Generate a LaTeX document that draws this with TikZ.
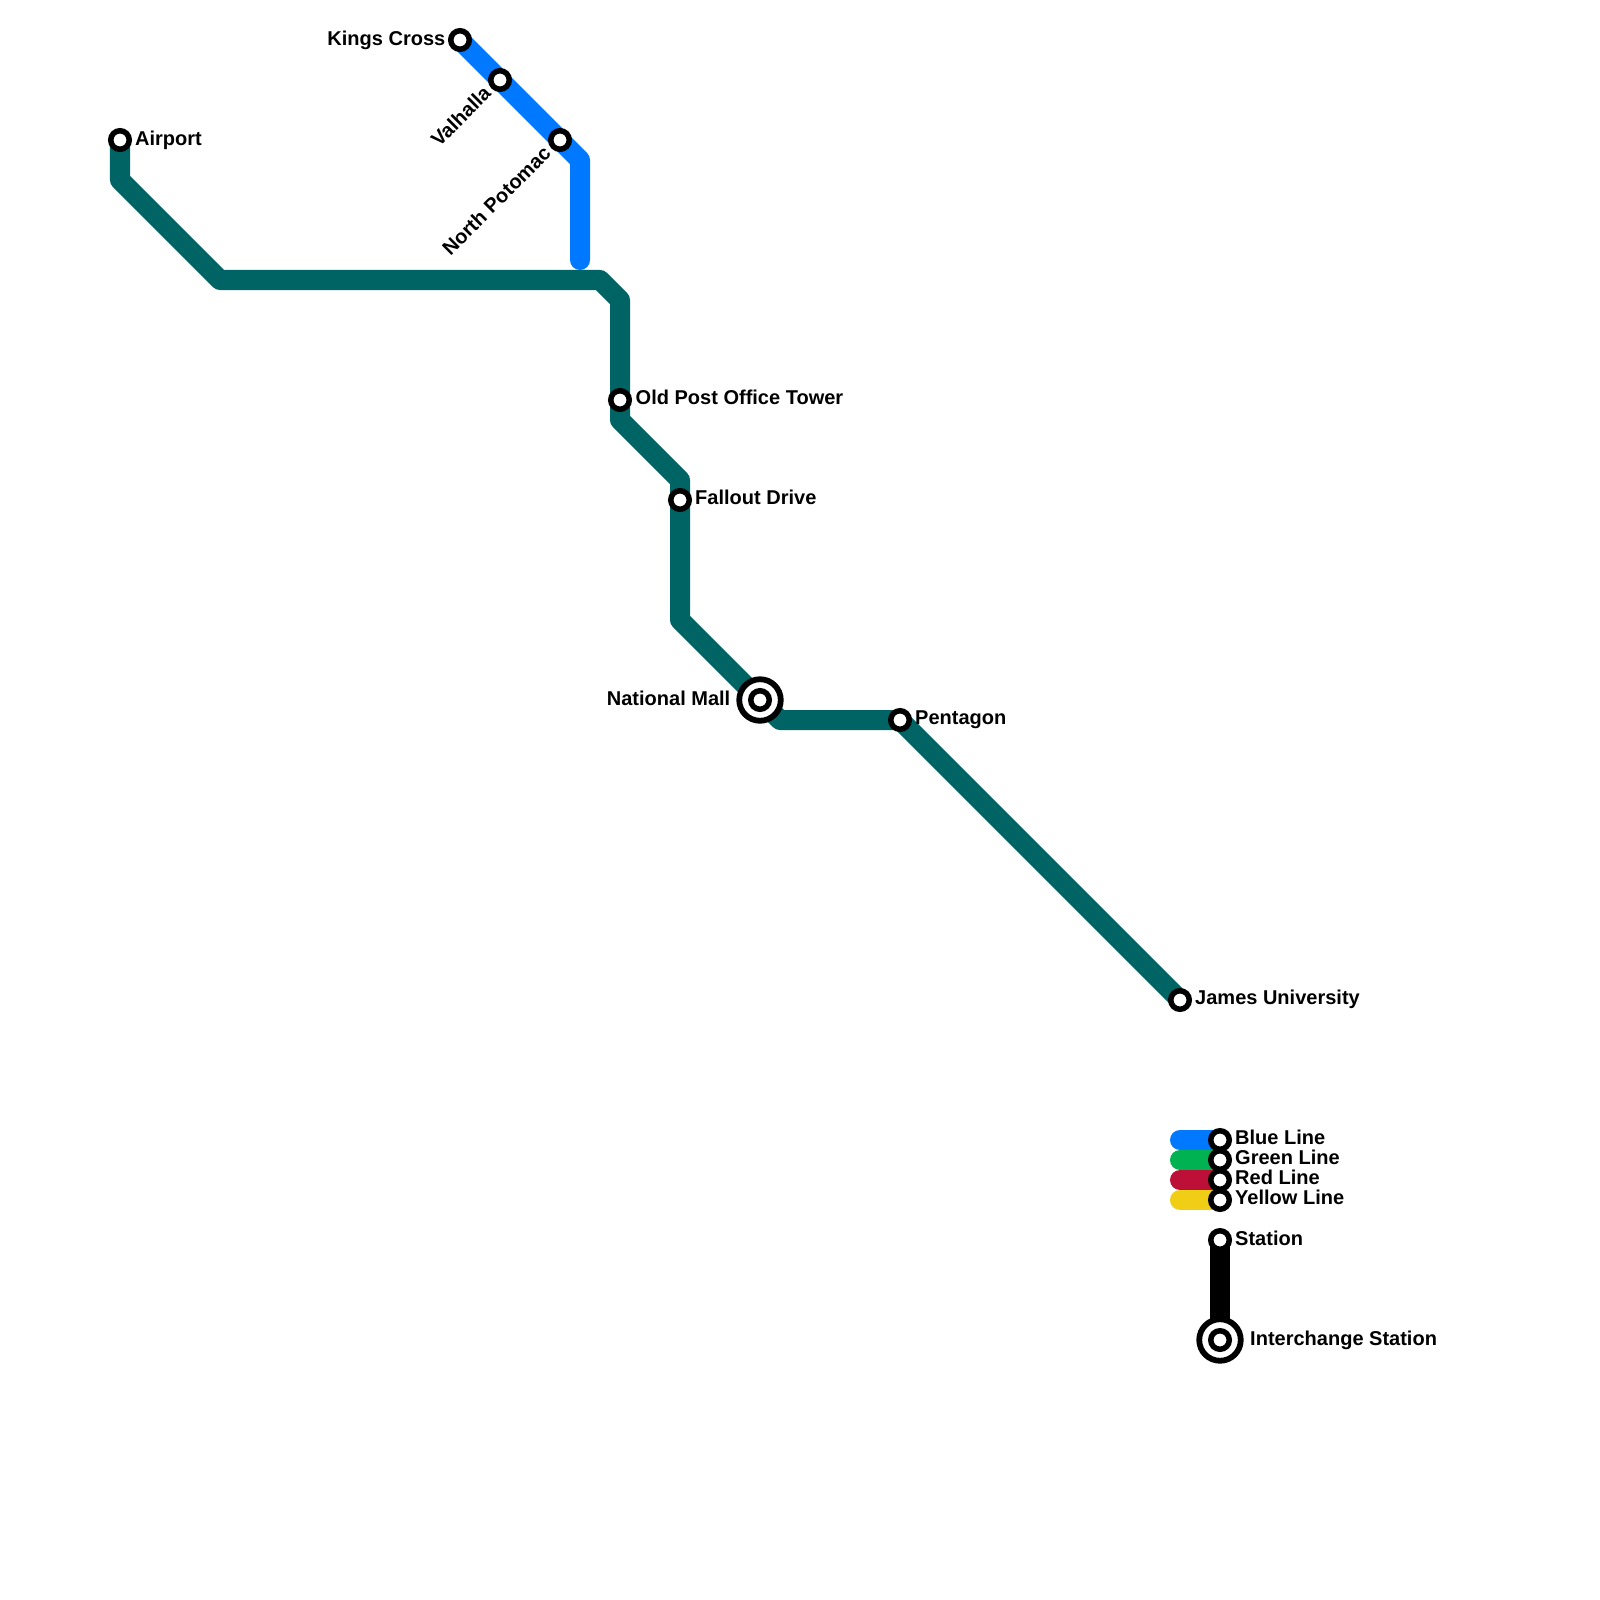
\documentclass[tikz,border=0pt]{standalone}
\usepackage{fontspec}
\setmainfont{Liberation Sans}
\usetikzlibrary{backgrounds}
\definecolor{metroblue}{RGB}{0,120,255}
\definecolor{metroteal}{RGB}{0,100,100}
\definecolor{metrogreen}{RGB}{0,178,81}
\definecolor{metrored}{RGB}{189,16,56}
\definecolor{metroyellow}{RGB}{240,206,21}
\tikzset{
    metro line/.style={
        line width=0.2cm,
        line cap=round,
        line join=round
    },
    station/.style={
        circle,
        draw=black,
        fill=white,
        line width=0.055cm,
        minimum size=0.185cm,
        inner sep=0pt
    },
    interchange/.style={
        station,
        line width=0.058cm,
        minimum size=0.415cm
    },
    station label/.style={
        font=\bfseries\fontsize{5.69pt}{7pt}\selectfont,
        inner sep=0pt
    }
}
\begin{document}
\begin{tikzpicture}[x=0.01cm,y=-0.01cm]
                \useasboundingbox (0,0) rectangle (1600,1600);
                % stations
                \node[station] (Airport) at (120,140) {};
                \node[station] (KingsCross) at (460,40) {};
                \node[station] (Valhalla) at (500,80) {};
                \node[station] (NorthPotomac) at (560,140) {};
                \node[station] (OldPost) at (620,400) {};
                \node[station] (Fallout) at (680,500) {};
                \node[interchange] (MallRing) at (760,700) {};
                \node[station] (NationalMall) at (760,700) {};
                \node[station] (Pentagon) at (900,720) {};
                \node[station] (James) at (1180,1000) {};
                % key
                \node[station] (KeyBlue) at (1220,1140) {};
                \node[station] (KeyGreen) at (1220,1160) {};
                \node[station] (KeyRed) at (1220,1180) {};
                \node[station] (KeyYellow) at (1220,1200) {};
                \node[station] (KeyStation) at (1220,1240) {};
                \node[interchange] (KeyRing) at (1220,1340) {};
                \node[station] (KeyInterchange) at (1220,1340) {};
                % bends
                \coordinate (T1) at (120,180);
                \coordinate (T2) at (220,280);
                \coordinate (T3) at (600,280);
                \coordinate (T4) at (620,300);
                \coordinate (T5) at (620,420);
                \coordinate (T6) at (680,480);
                \coordinate (T7) at (680,620);
                \coordinate (T8) at (780,720);
                \coordinate (B1) at (580,160);
                \coordinate (B2) at (580,260);
                \coordinate (E1) at (1180,1140);
                \coordinate (E2) at (1180,1160);
                \coordinate (E3) at (1180,1180);
                \coordinate (E4) at (1180,1200);
                % lines
                \begin{pgfonlayer}{background}
                    \draw[metro line, metroteal]
                        (Airport.center) -- (T1) -- (T2) -- (T3) -- (T4) -- (T5) -- (T6) -- (T7) -- (T8) -- (Pentagon.center) -- (James.center);
                    \draw[metro line, metroblue]
                        (KingsCross.center) -- (Valhalla.center) -- (NorthPotomac.center) -- (B1) -- (B2);
                    \draw[metro line, metroblue] (E1) -- (KeyBlue.center);
                    \draw[metro line, metrogreen] (E2) -- (KeyGreen.center);
                    \draw[metro line, metrored] (E3) -- (KeyRed.center);
                    \draw[metro line, metroyellow] (E4) -- (KeyYellow.center);
                    \draw[metro line, black] (KeyStation.center) -- (KeyInterchange.center);
                \end{pgfonlayer}
                % labels
                \node[station label, anchor=base west] (LAirport) at ([shift={(14.5,5.5)}]Airport.center) {Airport};
                \node[station label, anchor=base east] (LKings) at ([shift={(-14,6)}]KingsCross.center) {Kings Cross};
                \node[station label, anchor=base east, rotate=45] (LValhalla) at ([shift={(-7.5,14.5)}]Valhalla.center) {Valhalla};
                \node[station label, anchor=base east, rotate=45] (LPotomac) at ([shift={(-7.5,14.5)}]NorthPotomac.center) {North Potomac};
                \node[station label, anchor=base west] (LOldPost) at ([shift={(15,4)}]OldPost.center) {Old Post Office Tower};
                \node[station label, anchor=base west] (LFallout) at ([shift={(14.5,4)}]Fallout.center) {Fallout Drive};
                \node[station label, anchor=base east] (LMall) at ([shift={(-29,5)}]NationalMall.center) {National Mall};
                \node[station label, anchor=base west] (LPentagon) at ([shift={(14.5,4)}]Pentagon.center) {Pentagon};
                \node[station label, anchor=base west] (LJames) at ([shift={(14.5,4)}]James.center) {James University};
                \node[station label, anchor=base west] (LBlue) at ([shift={(14.5,4)}]KeyBlue.center) {Blue Line};
                \node[station label, anchor=base west] (LGreen) at ([shift={(14.5,4)}]KeyGreen.center) {Green Line};
                \node[station label, anchor=base west] (LRed) at ([shift={(14.5,4)}]KeyRed.center) {Red Line};
                \node[station label, anchor=base west] (LYellow) at ([shift={(14.5,4)}]KeyYellow.center) {Yellow Line};
                \node[station label, anchor=base west] (LStation) at ([shift={(14.5,5)}]KeyStation.center) {Station};
                \node[station label, anchor=base west] (LInterchange) at ([shift={(29.5,5)}]KeyInterchange.center) {Interchange Station};
            \end{tikzpicture}
\end{document}
